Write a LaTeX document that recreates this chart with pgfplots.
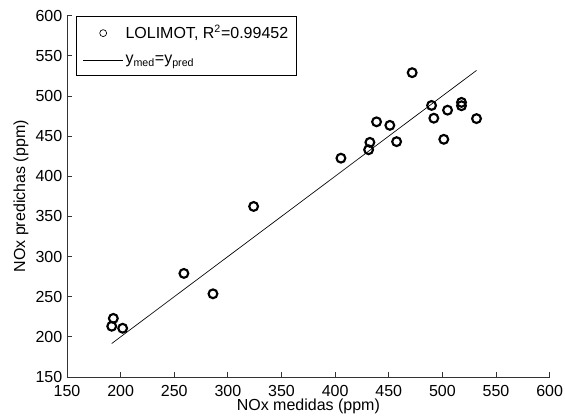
\documentclass[border=0pt]{standalone}
\usepackage{pgfplots}
\pgfplotsset{compat=1.18}
\usepackage{fontspec}
\setmainfont{Liberation Sans}
\begin{document}
\begin{tikzpicture}[font=\fontsize{12}{14}\selectfont, x=1pt, y=1pt]
\begin{axis}[
  name=ax,
  scale only axis,
  width=362pt, height=271pt,
  xmin=150, xmax=600, ymin=150, ymax=600,
  xtick={150,200,...,600}, ytick={150,200,...,600},
  axis x line*=bottom, axis y line*=left,
  tick align=inside,
  major tick length=3.75pt,
  axis line style={black!80, line width=0.6pt},
  tick style={black!80, line width=0.6pt},
  /pgf/number format/assume math mode=true,
  xticklabel style={yshift=-2.5pt},
  xlabel={NOx medidas (ppm)},
  ylabel={NOx predichas (ppm)},
  xlabel style={at={(axis description cs:0.5,-0.061)}, anchor=north, inner sep=0pt},
  ylabel style={at={(axis description cs:-0.0952,0.5)}, anchor=center, inner sep=0pt},
  legend cell align=left,
  legend style={at={(axis description cs:0.018,1)}, anchor=north west,
    draw=black, line width=0.75pt, inner xsep=5pt, inner ysep=5.5pt,
    row sep=8pt,
    nodes={inner sep=1.5pt, line width=0.5pt}},
]
\addplot[only marks, mark=o, mark size=3.3pt, line width=1.6pt, black,
  legend image code/.code={\draw[black, line width=0.5pt] (15pt,0pt) circle (2.6pt); \path[draw=none] (0pt,0pt) -- (30pt,0pt);}]
coordinates {
(191.7,213.2)
(193.2,223.0)
(201.9,210.7)
(259.0,279.0)
(286.1,253.6)
(324.0,362.4)
(405.4,422.5)
(432.4,442.2)
(431.2,433.0)
(438.6,467.8)
(451.0,463.4)
(457.3,443.1)
(471.8,529.0)
(489.9,488.2)
(492.0,472.3)
(501.3,446.0)
(504.8,482.3)
(517.8,492.0)
(517.8,487.8)
(531.8,471.8)
};
\addlegendentry{LOLIMOT, R\textsuperscript{2}=0.99452\hspace{4pt}}
\addplot[black, line width=0.5pt,
  legend image code/.code={\draw[black, line width=0.5pt] (0pt,0pt) -- (30pt,0pt);}]
coordinates {(191.7,191.7) (531.8,531.8)};
\addlegendentry{y\textsubscript{med}=y\textsubscript{pred}}
\end{axis}
\pgfresetboundingbox
\path ([shift={(-67*0.75pt,-39*0.75pt)}]ax.south west) rectangle ([shift={(498*0.75pt,377*0.75pt)}]ax.south west);
\end{tikzpicture}
\end{document}
